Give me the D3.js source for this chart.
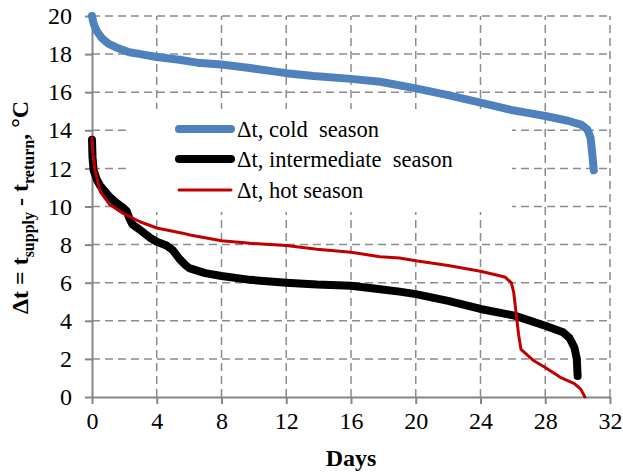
<!DOCTYPE html>
<html>
<head>
<meta charset="utf-8">
<script src="https://cdn.jsdelivr.net/npm/d3@7"></script>
<style>
  body { margin: 0; background: #fff; }
</style>
</head>
<body>
<div id="chart"></div>
<script>
// series data: [days, delta t]
var coldSeason = [
  [0, 20.0], [0.1, 19.6], [0.3, 19.2], [0.6, 18.85], [1.0, 18.55], [1.5, 18.35],
  [2.3, 18.1], [3, 18.0], [4, 17.85], [5.4, 17.7], [6.5, 17.55], [8, 17.45],
  [9.5, 17.3], [11, 17.12], [12, 17.0], [13.7, 16.85], [16, 16.7], [17.8, 16.55],
  [20, 16.2], [22, 15.85], [24, 15.45], [26, 15.05], [27, 14.9], [28, 14.75],
  [29.4, 14.5], [30.2, 14.3], [30.6, 14.05], [30.8, 13.6], [30.9, 12.8], [31.0, 11.9]
];
var intermediateSeason = [
  [0, 13.5], [0.03, 12.6], [0.1, 11.9], [0.3, 11.4], [0.5, 11.1], [0.8, 10.8],
  [1.1, 10.5], [1.5, 10.2], [1.9, 9.95], [2.15, 9.75], [2.3, 9.4], [2.5, 9.05],
  [3, 8.75], [3.6, 8.35], [4, 8.15], [4.6, 7.95], [5.0, 7.7], [5.4, 7.25],
  [5.8, 6.9], [6.05, 6.75], [7, 6.5], [8, 6.35], [9.76, 6.15], [12, 6.0],
  [13.9, 5.9], [16, 5.84], [17.8, 5.66], [19, 5.53], [20, 5.4], [22, 5.05],
  [24, 4.62], [26.1, 4.27], [28, 3.74], [29.1, 3.4], [29.5, 3.1], [29.8, 2.6],
  [29.95, 2.0], [30.0, 1.1]
];
var hotSeason = [
  [0, 13.6], [0.05, 12.8], [0.19, 11.9], [0.5, 10.8], [1.1, 10.1], [1.9, 9.65],
  [2.96, 9.2], [4, 8.87], [5.6, 8.6], [6.05, 8.5], [8, 8.2], [9.76, 8.07],
  [12, 7.95], [13.9, 7.75], [16, 7.6], [17.8, 7.36], [19, 7.3], [20, 7.15],
  [22, 6.9], [24, 6.6], [25.5, 6.3], [25.9, 6.0], [26.05, 5.5], [26.2, 4.4],
  [26.35, 3.3], [26.5, 2.5], [27.3, 1.9], [28, 1.55], [29, 1.0], [29.8, 0.7],
  [30.2, 0.4], [30.45, 0.0]
];

var xTicks = [0, 4, 8, 12, 16, 20, 24, 28, 32];
var yTicks = [0, 2, 4, 6, 8, 10, 12, 14, 16, 18, 20];
var legendLabels = ["\u0394t, cold\u00a0 season", "\u0394t, intermediate\u00a0 season", "\u0394t, hot season"];

var width = 623, height = 473;
var margin = { left: 92, right: 13, top: 16, bottom: 76 };
var serif = "'Liberation Serif'";

var svg = d3.select("#chart").append("svg")
  .attr("width", width)
  .attr("height", height);

var x = d3.scaleLinear().domain([0, 32]).range([margin.left, width - margin.right]);
var y = d3.scaleLinear().domain([0, 20]).range([height - margin.bottom, margin.top]);

// dashed grid
var grid = svg.append("g").attr("stroke", "#8c8c8c").attr("stroke-width", 1.5).attr("stroke-dasharray", "8,5");
grid.selectAll(".hg").data(yTicks.filter(d => d > 0)).enter().append("line")
  .attr("x1", x(0)).attr("x2", x(32))
  .attr("y1", d => y(d)).attr("y2", d => y(d));
grid.selectAll(".vg").data(xTicks.filter(d => d > 0)).enter().append("line")
  .attr("y1", y(0)).attr("y2", y(20))
  .attr("x1", d => x(d)).attr("x2", d => x(d));

// white legend background hides the grid behind it
svg.append("rect")
  .attr("x", 128).attr("y", 109).attr("width", 384).attr("height", 103)
  .attr("fill", "#fff");

// axes
var xAxis = svg.append("g")
  .attr("transform", "translate(0," + y(0) + ")")
  .call(d3.axisBottom(x).tickValues(xTicks).tickSizeInner(7).tickSizeOuter(0).tickPadding(8));
var yAxis = svg.append("g")
  .attr("transform", "translate(" + x(0) + ",0)")
  .call(d3.axisLeft(y).tickValues(yTicks).tickSizeInner(7).tickSizeOuter(0).tickPadding(13));

[xAxis, yAxis].forEach(function(a) {
  a.attr("font-family", null).attr("font-size", null);
  a.select(".domain").attr("stroke", "#868686").attr("stroke-width", 2);
  a.selectAll(".tick line").attr("stroke", "#868686").attr("stroke-width", 2);
  a.selectAll(".tick text")
    .attr("fill", "#000")
    .attr("font-size", 24)
    .style("font-family", serif);
});

// curves
var line = d3.line().x(d => x(d[0])).y(d => y(d[1]));
var series = [
  { data: coldSeason, color: "#4F81BD", w: 8 },
  { data: intermediateSeason, color: "#000000", w: 8 },
  { data: hotSeason, color: "#C00000", w: 3 }
];
svg.selectAll(".series").data(series).enter().append("path")
  .attr("d", d => line(d.data))
  .attr("fill", "none")
  .attr("stroke", d => d.color)
  .attr("stroke-width", d => d.w)
  .attr("stroke-linecap", "round")
  .attr("stroke-linejoin", "round");

// legend
var rows = svg.selectAll(".row").data(series).enter().append("g")
  .attr("transform", (d, i) => "translate(0," + [129, 159, 190][i] + ")");
rows.append("line")
  .attr("x1", 179).attr("x2", 231)
  .attr("stroke", d => d.color)
  .attr("stroke-width", d => d.w)
  .attr("stroke-linecap", "round");
rows.append("text")
  .attr("x", 237).attr("y", 8)
  .attr("font-size", 22.5)
  .style("font-family", serif)
  .text((d, i) => legendLabels[i]);

// axis titles
svg.append("text")
  .attr("x", (x(0) + x(32)) / 2).attr("y", 466)
  .attr("text-anchor", "middle")
  .attr("font-size", 24).attr("font-weight", "bold")
  .style("font-family", serif)
  .text("Days");

var yt = svg.append("text")
  .attr("transform", "translate(28," + (y(10) + 1) + ") rotate(-90)")
  .attr("text-anchor", "middle")
  .attr("font-size", 24).attr("font-weight", "bold")
  .style("font-family", serif);
yt.append("tspan").text("\u0394t = t");
yt.append("tspan").attr("dy", 6).attr("font-size", 16).text("supply");
yt.append("tspan").attr("dy", -6).text(" - t");
yt.append("tspan").attr("dy", 6).attr("font-size", 16).text("return");
yt.append("tspan").attr("dy", -6).text(", \u00b0C");
</script>
</body>
</html>
